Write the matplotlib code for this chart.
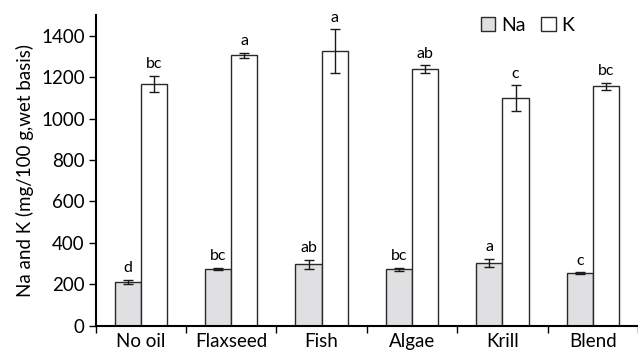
import numpy as np
import matplotlib.pyplot as plt
from matplotlib.patches import Patch

plt.rcParams['font.family'] = ['Lato', 'DejaVu Sans']

oils = ["No oil", "Flaxseed", "Fish", "Algae", "Krill", "Blend"]
na_vals = [212, 275, 296, 272, 302, 254]
na_err = [10, 5, 22, 8, 20, 3]
k_vals = [1166, 1305, 1326, 1238, 1098, 1155]
k_err = [40, 12, 105, 20, 63, 18]
na_letters = ["d", "bc", "ab", "bc", "a", "c"]
k_letters = ["bc", "a", "a", "ab", "c", "bc"]

fig = plt.figure(figsize=(6.38, 3.56), dpi=100)
ax = fig.add_axes([0.150, 0.085, 0.85, 0.873])

x = np.arange(len(oils))
w = 0.29
edge = "#2a2a2a"
ek = dict(ecolor="#1a1a1a", elinewidth=1.0, capsize=3.5, capthick=1.0)
A = ax.bar(x - w / 2, na_vals, w, yerr=na_err, color="#e0e0e2",
           edgecolor=edge, linewidth=1.0, error_kw=ek, label="Na")
B = ax.bar(x + w / 2, k_vals, w, yerr=k_err, color="white",
           edgecolor=edge, linewidth=1.0, error_kw=ek, label="K")

for xi, v, e, t in zip(x - w / 2, na_vals, na_err, na_letters):
    ax.text(xi, v + e + 22, t, ha="center", va="bottom", fontsize=11.5)
for xi, v, e, t in zip(x + w / 2, k_vals, k_err, k_letters):
    ax.text(xi, v + e + 22, t, ha="center", va="bottom", fontsize=11.5)

ax.set_xlim(-0.5, len(oils) - 0.5)
ax.set_ylim(0, 1500)
ax.set_yticks(range(0, 1401, 200))
ax.set_xticks(x)
ax.set_xticklabels(oils, fontsize=13.5)
ax.set_xticks(np.arange(-0.5, len(oils), 1.0), minor=True)
ax.tick_params(axis="x", which="major", length=0, pad=5)
ax.tick_params(axis="x", which="minor", length=5, width=1.0, direction="out")
ax.tick_params(axis="y", labelsize=13.5, length=5, width=1.0, direction="out", pad=3)
ax.set_ylabel("Na and K (mg/100 g,wet basis)", fontsize=13.5, labelpad=5)
for s in ["top", "right"]:
    ax.spines[s].set_visible(False)
for s in ["left", "bottom"]:
    ax.spines[s].set_linewidth(1.5)

ax.legend(handles=[Patch(facecolor="#e0e0e2", edgecolor=edge, label="Na"),
                   Patch(facecolor="white", edgecolor=edge, label="K")],
          loc="upper right", bbox_to_anchor=(0.915, 1.05), ncol=2, frameon=False,
          fontsize=14, handlelength=0.75, handleheight=0.75,
          handletextpad=0.3, columnspacing=0.8)

fig.savefig("out.png", dpi=100)
